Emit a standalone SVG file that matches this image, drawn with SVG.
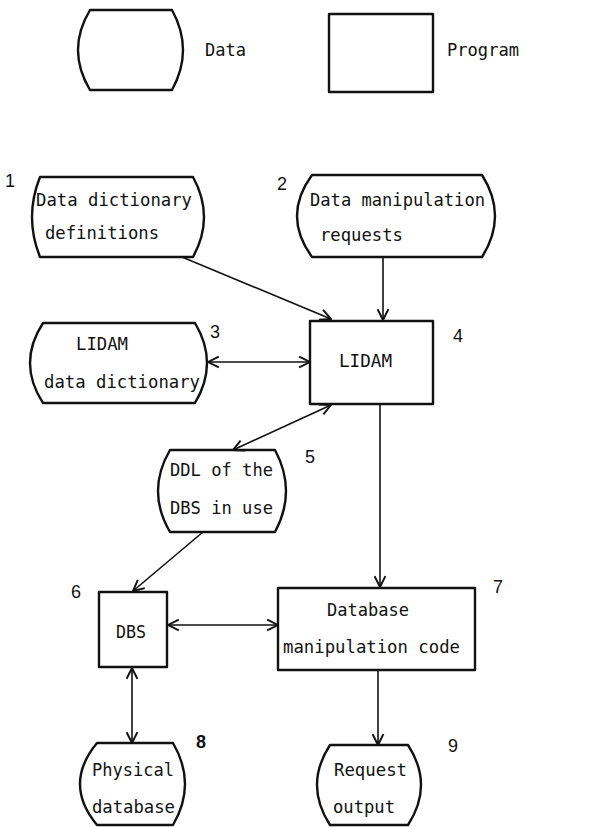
<svg xmlns="http://www.w3.org/2000/svg" width="605" height="827" viewBox="0 0 605 827">
<style>
.shape{fill:#fff;stroke:#111;stroke-width:2.4;stroke-linejoin:round}
.t{font-family:"DejaVu Sans Mono","Liberation Mono",monospace;font-size:18px;fill:#111}
.n{font-family:"Liberation Sans",Arial,sans-serif;font-size:18px;fill:#111}
.c line{stroke:#111;stroke-width:1.6;fill:none}
</style>
<defs>
<marker id="ah" viewBox="0 0 12 12" refX="11" refY="6" markerWidth="13" markerHeight="13" markerUnits="userSpaceOnUse" orient="auto-start-reverse">
<path d="M1,1 L11,6 L1,11" fill="none" stroke="#111" stroke-width="1.8"/>
</marker>
</defs>
<rect width="605" height="827" fill="#fff"/>
<g id="legend-data">
<path class="shape" d="M90,10 L172,10 Q194,50 172,90 L90,90 Q66,50 90,10 Z"/>
<text class="t" x="205" y="56" textLength="41" lengthAdjust="spacingAndGlyphs">Data</text>
</g>
<g id="legend-program">
<rect class="shape" x="329" y="14" width="104" height="78"/>
<text class="t" x="447" y="56" textLength="72" lengthAdjust="spacingAndGlyphs">Program</text>
</g>
<g id="n1">
<path class="shape" d="M40,177 L193,177 Q215,217 193,257 L40,257 Q24,217 40,177 Z"/>
<text class="t" x="36" y="206" textLength="156" lengthAdjust="spacingAndGlyphs">Data dictionary</text>
<text class="t" x="45" y="239" textLength="114" lengthAdjust="spacingAndGlyphs">definitions</text>
<text class="n" x="5" y="187">1</text>
</g>
<g id="n2">
<path class="shape" d="M312,175 L482,175 Q508,216 482,257 L312,257 Q282,216 312,175 Z"/>
<text class="t" x="310" y="206" textLength="175" lengthAdjust="spacingAndGlyphs">Data manipulation</text>
<text class="t" x="320" y="241" textLength="83" lengthAdjust="spacingAndGlyphs">requests</text>
<text class="n" x="277" y="190">2</text>
</g>
<g id="n3">
<path class="shape" d="M43,323 L195,323 Q219,363 195,403 L43,403 Q17,363 43,323 Z"/>
<text class="t" x="76" y="350" textLength="52" lengthAdjust="spacingAndGlyphs">LIDAM</text>
<text class="t" x="44" y="388" textLength="156" lengthAdjust="spacingAndGlyphs">data dictionary</text>
<text class="n" x="210" y="338">3</text>
</g>
<g id="n4">
<rect class="shape" x="310" y="321" width="123" height="83"/>
<text class="t" x="339" y="367" textLength="53" lengthAdjust="spacingAndGlyphs">LIDAM</text>
<text class="n" x="453" y="342">4</text>
</g>
<g id="n5">
<path class="shape" d="M170,450 L275,450 Q297,491 275,532 L170,532 Q146,491 170,450 Z"/>
<text class="t" x="170" y="476" textLength="103" lengthAdjust="spacingAndGlyphs">DDL of the</text>
<text class="t" x="170" y="514" textLength="103" lengthAdjust="spacingAndGlyphs">DBS in use</text>
<text class="n" x="305" y="463">5</text>
</g>
<g id="n6">
<rect class="shape" x="99" y="592" width="68" height="75"/>
<text class="t" x="116" y="638" textLength="30" lengthAdjust="spacingAndGlyphs">DBS</text>
<text class="n" x="71" y="598">6</text>
</g>
<g id="n7">
<rect class="shape" x="278" y="588" width="197" height="82"/>
<text class="t" x="327" y="616" textLength="82" lengthAdjust="spacingAndGlyphs">Database</text>
<text class="t" x="283" y="653" textLength="177" lengthAdjust="spacingAndGlyphs">manipulation code</text>
<text class="n" x="493" y="593">7</text>
</g>
<g id="n8">
<path class="shape" d="M97,743 L173,743 Q197,784 173,825 L97,825 Q63,784 97,743 Z"/>
<text class="t" x="92" y="776" textLength="82" lengthAdjust="spacingAndGlyphs">Physical</text>
<text class="t" x="92" y="813" textLength="83" lengthAdjust="spacingAndGlyphs">database</text>
<text class="n" x="196" y="748" font-weight="bold">8</text>
</g>
<g id="n9">
<path class="shape" d="M330,745 L408,745 Q434,785 408,825 L330,825 Q304,785 330,745 Z"/>
<text class="t" x="334" y="776" textLength="73" lengthAdjust="spacingAndGlyphs">Request</text>
<text class="t" x="333" y="813" textLength="62" lengthAdjust="spacingAndGlyphs">output</text>
<text class="n" x="448" y="752">9</text>
</g>
<g id="connectors" class="c">
<line x1="182" y1="257" x2="331" y2="319" marker-end="url(#ah)"/>
<line x1="383" y1="257" x2="383" y2="320" marker-end="url(#ah)"/>
<line x1="208" y1="362" x2="310" y2="362" marker-start="url(#ah)" marker-end="url(#ah)"/>
<line x1="233" y1="450" x2="331" y2="405" marker-start="url(#ah)" marker-end="url(#ah)"/>
<line x1="380" y1="404" x2="380" y2="587" marker-end="url(#ah)"/>
<line x1="203" y1="532" x2="133" y2="591" marker-end="url(#ah)"/>
<line x1="168" y1="625" x2="278" y2="625" marker-start="url(#ah)" marker-end="url(#ah)"/>
<line x1="132" y1="668" x2="132" y2="743" marker-start="url(#ah)" marker-end="url(#ah)"/>
<line x1="378" y1="670" x2="378" y2="745" marker-end="url(#ah)"/>
</g>
</svg>
